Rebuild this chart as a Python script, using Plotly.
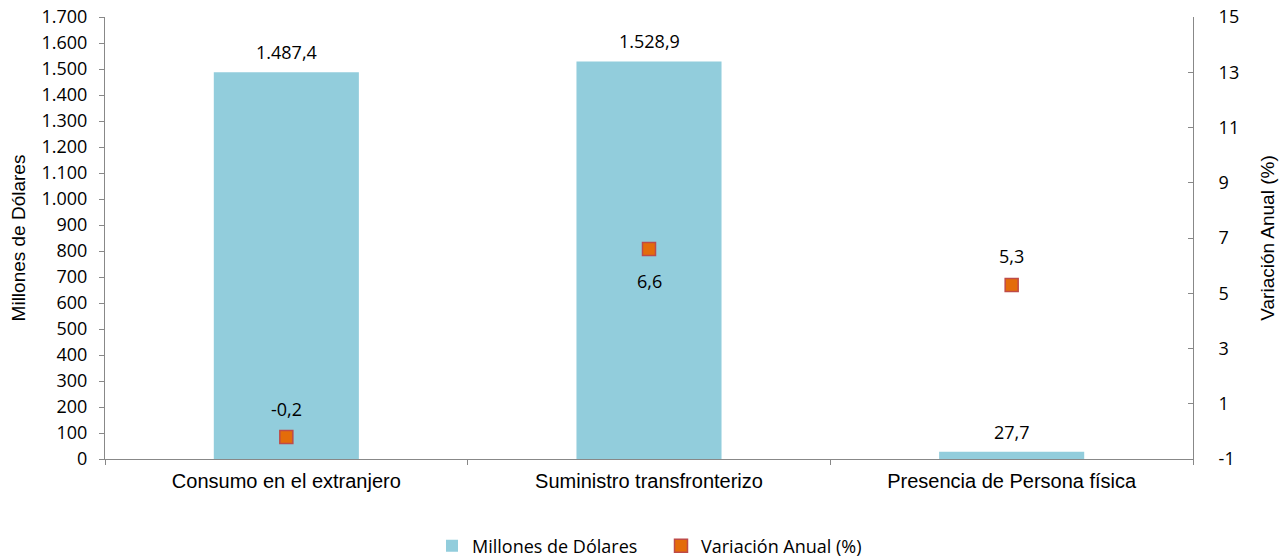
import plotly.graph_objects as go

categories = ["Consumo en el extranjero", "Suministro transfronterizo", "Presencia de Persona física"]
millones = [1487.4, 1528.9, 27.7]
variacion = [-0.2, 6.6, 5.3]
var_label_shift = [28, -32, 29]
left_ticks = list(range(0, 1701, 100))
right_ticks = list(range(-1, 16, 2))

LBL_FONT = dict(family="Open Sans, Lato, sans-serif", size=18, color="#000")
ARIAL = "Liberation Sans, Arial, sans-serif"


def es_num(v, dec):
    s = f"{v:,.{dec}f}"
    return s.replace(",", "X").replace(".", ",").replace("X", ".")


fig = go.Figure()
fig.add_trace(go.Bar(
    x=categories, y=millones, name="Millones de Dólares",
    marker=dict(color="#92CDDC", line=dict(width=0)),
    yaxis="y",
))
fig.add_trace(go.Scatter(
    x=categories, y=variacion, name="Variación Anual (%)", mode="markers",
    marker=dict(symbol="square", size=13, color="#E46C0A", line=dict(color="#BE4B48", width=1.5)),
    yaxis="y2", cliponaxis=False,
))

annotations = []
for c, v in zip(categories, millones):
    annotations.append(dict(x=c, y=v, xref="x", yref="y", text=es_num(v, 1),
                            showarrow=False, yshift=20, font=LBL_FONT))
for c, v, s in zip(categories, variacion, var_label_shift):
    annotations.append(dict(x=c, y=v, xref="x", yref="y2", text=es_num(v, 1),
                            showarrow=False, yshift=s, font=LBL_FONT))

fig.update_layout(
    width=1286, height=560,
    margin=dict(l=105, r=93, t=17, b=101, autoexpand=False),
    plot_bgcolor="white", paper_bgcolor="white",
    separators=",.",
    bargap=0.6,
    showlegend=True,
    annotations=annotations,
    legend=dict(orientation="h", x=0.514, xanchor="center", xref="container",
                y=0.025, yanchor="middle", yref="container",
                font=dict(family="Open Sans, Lato, sans-serif", size=18, color="#000"),
                itemwidth=30, entrywidth=184, entrywidthmode="pixels"),
    xaxis=dict(
        automargin=False,
        showline=True, linecolor="#888", linewidth=1,
        ticks="outside", tickson="boundaries", tickcolor="#888", ticklen=5,
        ticklabelstandoff=4,
        tickfont=dict(family=ARIAL, size=20, color="#000"),
        showgrid=False,
    ),
    yaxis=dict(
        automargin=False,
        range=[0, 1700], tickvals=left_ticks, tickformat=",.0f",
        showline=True, linecolor="#888", linewidth=1,
        ticks="outside", tickcolor="#888", ticklen=5,
        ticklabelstandoff=8, ticklabeloverflow="allow",
        showgrid=False, zeroline=False,
        tickfont=dict(family="Open Sans, Lato, sans-serif", size=18, color="#000"),
        title=dict(text="Millones de Dólares", standoff=10,
                   font=dict(family=ARIAL, size=19, color="#000")),
    ),
    yaxis2=dict(
        automargin=False,
        range=[-1, 15], tickvals=right_ticks, ticktext=[str(t) for t in right_ticks],
        overlaying="y", side="right",
        showline=True, linecolor="#888", linewidth=1,
        ticks="inside", tickcolor="#888", ticklen=5,
        ticklabelstandoff=21, ticklabeloverflow="allow",
        showgrid=False, zeroline=False,
        tickfont=dict(family="Open Sans, Lato, sans-serif", size=18, color="#000"),
        title=dict(text="Variación Anual (%)", standoff=22,
                   font=dict(family=ARIAL, size=19, color="#000")),
    ),
)

fig.write_html("out.html", config={"displayModeBar": False},
               post_script="document.body.style.margin='0';")
